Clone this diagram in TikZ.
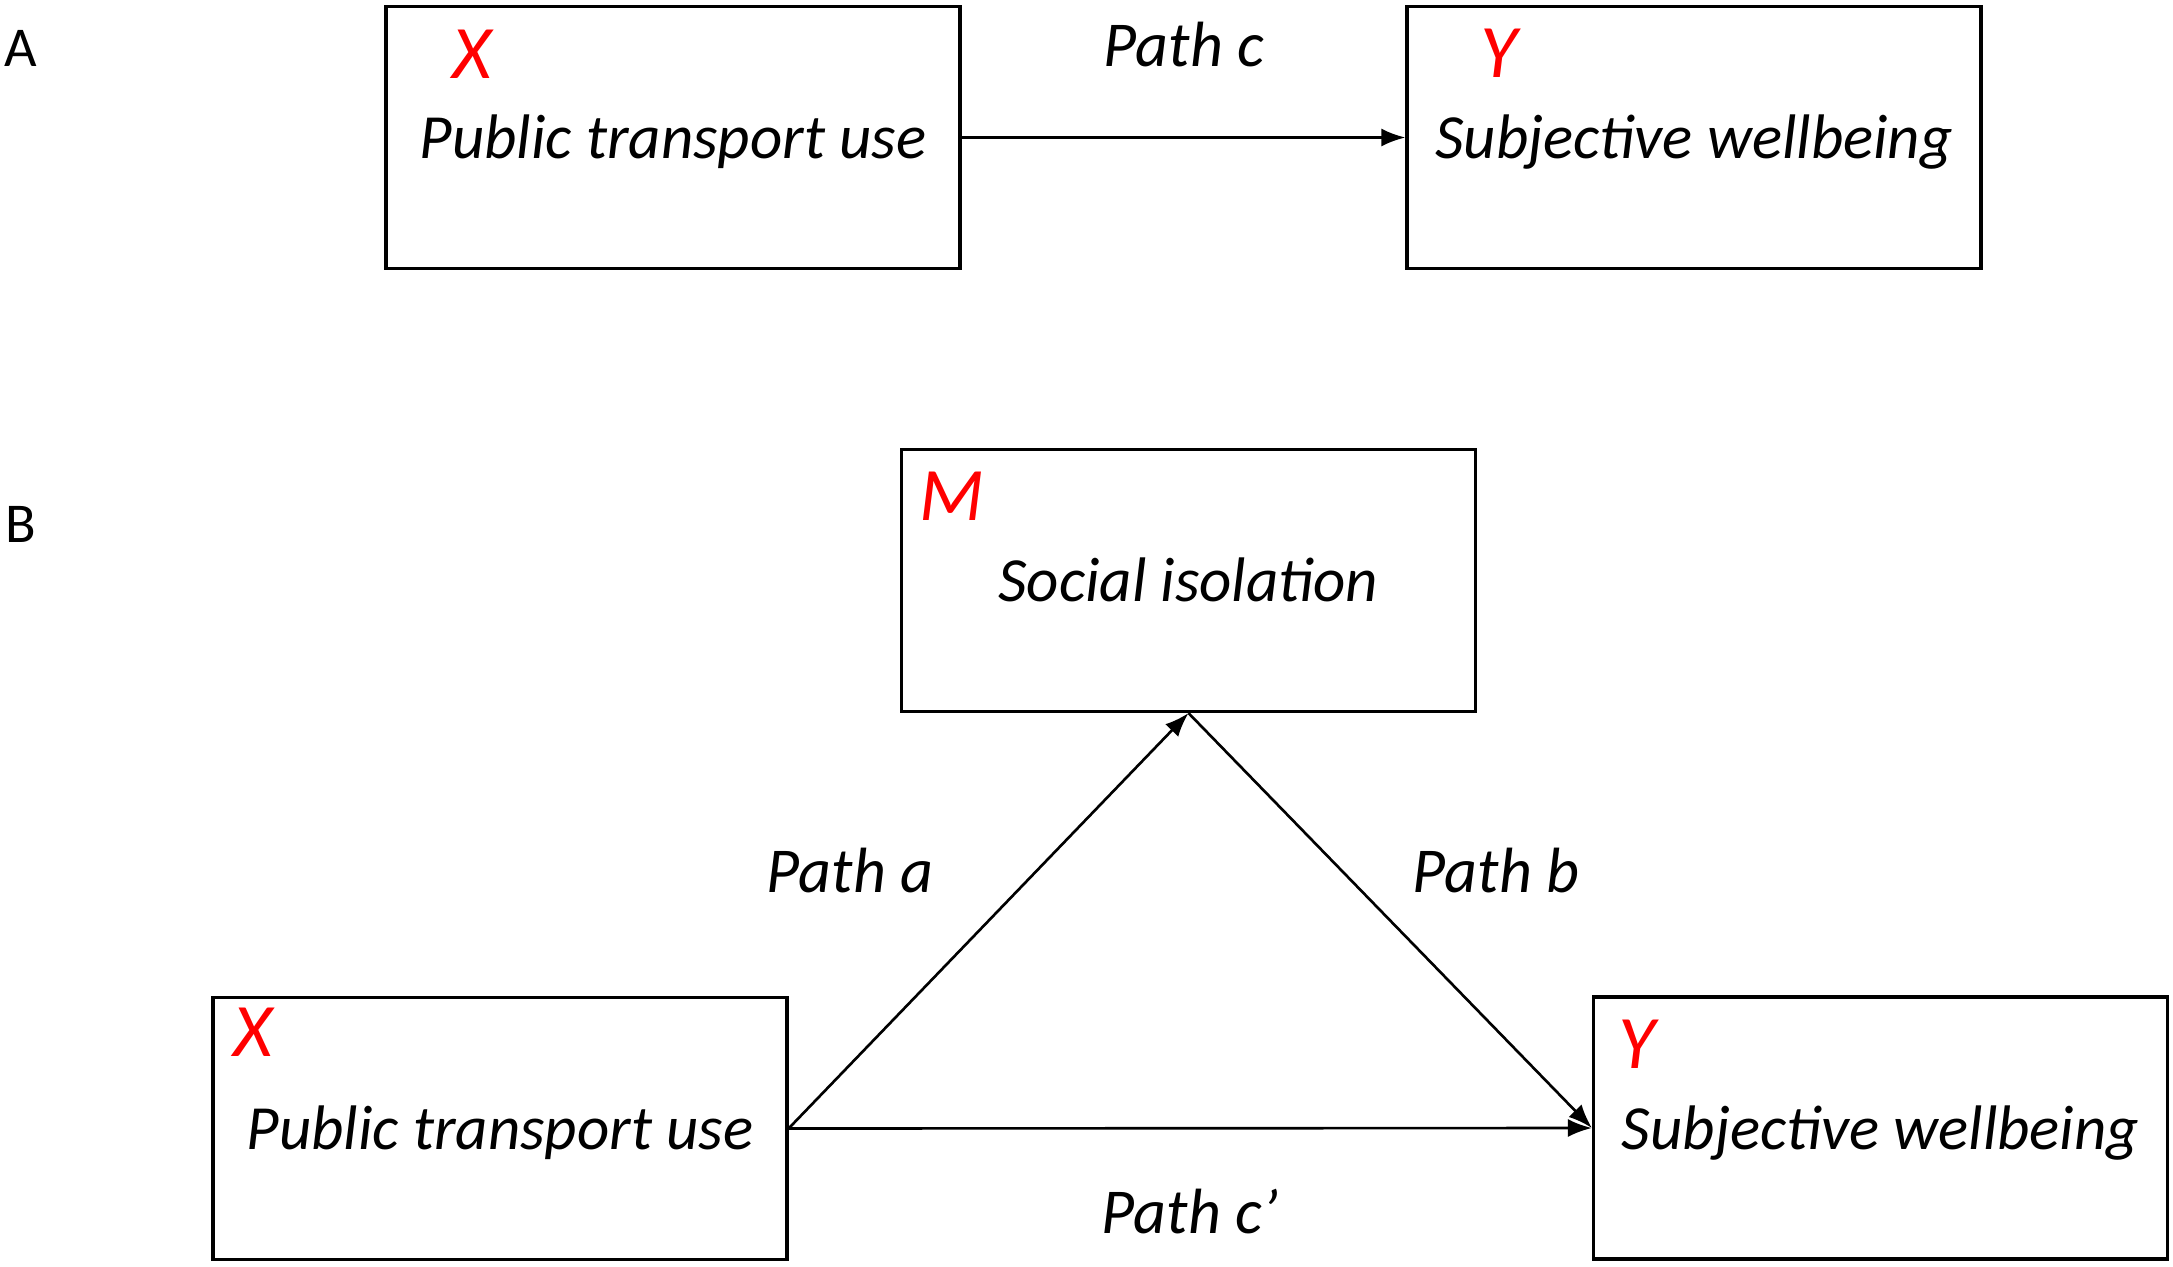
\documentclass[tikz,border=0pt]{standalone}
\usepackage{fontspec}
\setmainfont{Carlito}
\usetikzlibrary{arrows.meta}
\tikzstyle{var} = [rectangle, draw = black, line width = 0.9pt, minimum width = 5.74cm, minimum height = 2.62cm, inner sep = 0pt, text height = 0.55cm, text depth = 0.13cm, font = \fontsize{17.9}{21}\selectfont\itshape]
\tikzstyle{tag} = [inner sep = 0pt, text = red, font = \fontsize{21.5}{24}\selectfont\itshape]
\tikzstyle{lbl} = [inner sep = 0pt, font = \fontsize{18.2}{21}\selectfont\itshape]
\tikzstyle{panel} = [inner sep = 0pt, font = \fontsize{16}{19}\selectfont]
\tikzstyle{arrow} = [draw, -{Latex[length = 2.4mm, width = 1.8mm]}, line width = 0.75pt]

\begin{document}
\begin{tikzpicture}
            \useasboundingbox (0, 0) rectangle (21.73, -12.67);
            % panel A
            \node[panel] (pa) at (0.21, -0.48) {A};
            \node[var] (ax) at (6.73, -1.375) {Public transport use};
            \node[var] (ay) at (16.94, -1.375) {Subjective wellbeing};
            \node[tag] (axt) at (4.725, -0.54) {X};
            \node[tag] (ayt) at (14.99, -0.53) {Y};
            \node[lbl] (pc) at (11.84, -0.45) {Path c};
            \path[arrow] (ax) -- (ay);

            % panel B
            \node[panel] (pb) at (0.21, -5.24) {B};
            \node[var] (m) at (11.885, -5.805) {Social isolation};
            \node[var] (bx) at (5.00, -11.285) {Public transport use};
            \node[var] (by) at (18.805, -11.28) {Subjective wellbeing};
            \node[tag] (mt) at (9.515, -4.96) {M};
            \node[tag] (bxt) at (2.53, -10.32) {X};
            \node[tag] (byt) at (16.37, -10.44) {Y};
            \node[lbl] (pa) at (8.5, -8.71) {Path a};
            \node[lbl] (pbb) at (14.96, -8.71) {Path b};
            \node[lbl] (pcc) at (11.9, -12.12) {Path c’};

            \path[arrow] (bx.east) -- (m.south);
            \path[arrow] (m.south) -- (by.west);
            \path[arrow] (bx.east) -- (by.west);
        \end{tikzpicture}
\end{document}
